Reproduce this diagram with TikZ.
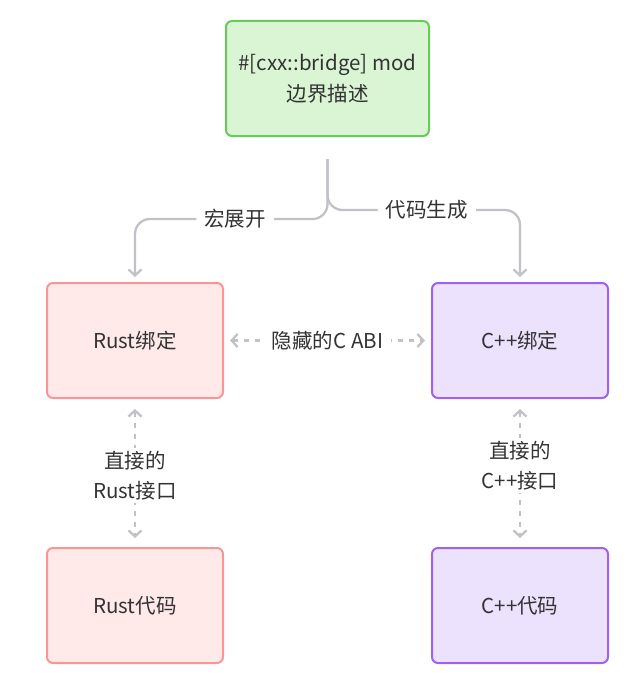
\documentclass[tikz,border=0pt]{standalone}
\usepackage{fontspec}
\setmainfont{Noto Sans CJK SC}
\usetikzlibrary{arrows.meta}
\definecolor{gfill}{RGB}{217,245,212}
\definecolor{gdraw}{RGB}{102,204,85}
\definecolor{rfill}{RGB}{255,233,233}
\definecolor{rdraw}{RGB}{248,150,150}
\definecolor{cfill}{RGB}{236,226,253}
\definecolor{cdraw}{RGB}{159,98,240}
\definecolor{egray}{RGB}{192,194,199}
\definecolor{txt}{RGB}{51,51,51}
\tikzset{
  box/.style={draw, line width=2pt, rounded corners=6pt, minimum height=115pt, inner sep=0pt, align=center, text=txt, font=\fontsize{20.5pt}{31pt}\selectfont},
  greenbox/.style={box, fill=gfill, draw=gdraw, minimum width=203pt},
  rustbox/.style={box, fill=rfill, draw=rdraw, minimum width=176pt},
  cppbox/.style={box, fill=cfill, draw=cdraw, minimum width=176pt},
  edge/.style={draw=egray, line width=2.3pt, -{Straight Barb[length=6pt,width=13pt,line width=2.3pt]}},
  dedge/.style={draw=egray, line width=2.3pt, dash pattern=on 5pt off 6pt, {Straight Barb[length=6pt,width=13pt,line width=2.3pt]}-{Straight Barb[length=6pt,width=13pt,line width=2.3pt]}},
  lbl/.style={fill=white, text=txt, inner xsep=8pt, inner ysep=3pt, align=center, font=\fontsize{20.5pt}{30pt}\selectfont},
}
\begin{document}
\begin{tikzpicture}[x=1pt,y=-1pt]
\useasboundingbox (0,0) rectangle (631,682);
\node[greenbox] (top) at (327.5,78.5) {\#[cxx::bridge] mod\\边界描述};
\node[rustbox] (rb) at (135,340.5) {Rust绑定};
\node[cppbox] (cb) at (520,340.5) {C++绑定};
\node[rustbox] (rc) at (135,605.5) {Rust代码};
\node[cppbox] (cc) at (520,605.5) {C++代码};

\draw[edge, rounded corners=15pt, shorten <=22pt, shorten >=5pt] (top.south) -- ++(0,82) -| (rb.north) node[lbl, pos=0.24] {宏展开};
\draw[edge, rounded corners=15pt, shorten <=22pt, shorten >=5pt] (top.south) -- ++(0,73) -| (cb.north) node[lbl, pos=0.258] {代码生成};

\draw[dedge, shorten <=6pt, shorten >=6pt] (rb.east) -- (cb.west) node[lbl, midway] {隐藏的C ABI};
\draw[dedge, shorten <=10pt, shorten >=9pt] (rb.south) -- (rc.north) node[lbl, pos=0.52] {直接的\\Rust接口};
\draw[dedge, shorten <=10pt, shorten >=9pt] (cb.south) -- (cc.north) node[lbl, pos=0.45] {直接的\\C++接口};
\end{tikzpicture}
\end{document}
